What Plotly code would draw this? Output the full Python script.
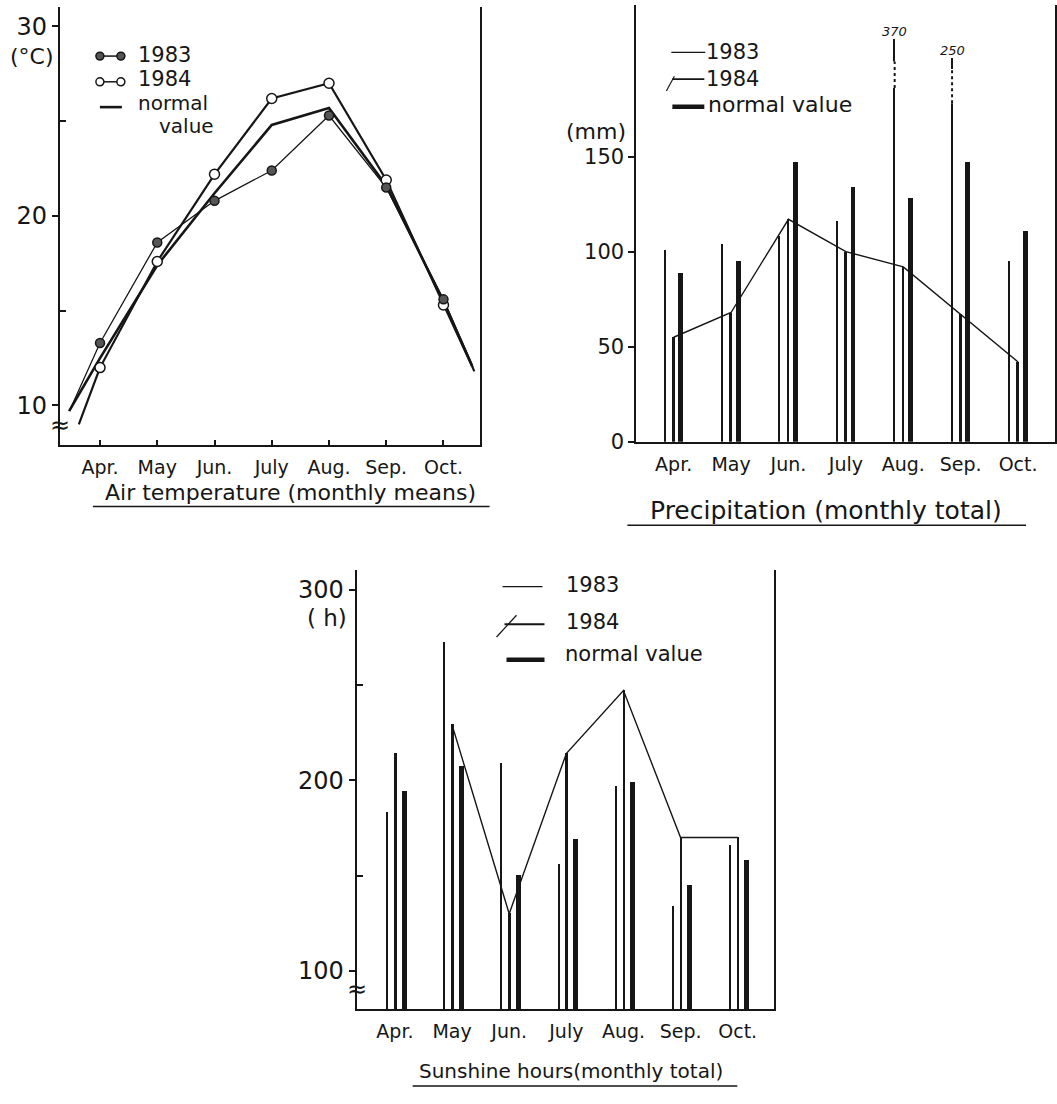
import plotly.graph_objects as go

# ---------------- data ----------------
months = ["Apr.", "May", "Jun.", "July", "Aug.", "Sep.", "Oct."]
mx = list(range(len(months)))

# Air temperature, monthly means (deg C)
temp_1983 = [13.3, 18.6, 20.8, 22.4, 25.3, 21.5, 15.6]
temp_1984 = [12.0, 17.6, 22.2, 26.2, 27.0, 21.9, 15.3]
temp_normal = [12.5, 17.4, 21.2, 24.8, 25.7, 21.6, 15.5]
# values where the curves are cut off, half way to Mar. and Nov.
temp_edge_1983 = [9.8, 12.0]
temp_edge_1984 = [9.0, 11.8]
temp_edge_normal = [9.7, 12.1]

# Precipitation, monthly total (mm)
precip_1983 = [101, 104, 108, 116, 370, 250, 95]
precip_1984 = [55, 68, 117, 100, 92, 67, 42]
precip_normal = [89, 95, 147, 134, 128, 147, 111]
# off-scale bars are drawn broken, up to these heights
precip_broken_top = {370: 212, 250: 202}

# Sunshine hours, monthly total (h)
sun_1983 = [183, 272, 209, 156, 197, 134, 166]
sun_1984 = [214, 229, 130, 214, 247, 170, 170]
sun_normal = [194, 207, 150, 169, 199, 145, 158]

# ---------------- styling / layout helpers ----------------
W, H = 1057, 1104
INK = "#161616"
FONT = "DejaVu Sans"


def fx(px):
    return px / W


def fy(py):
    return 1 - py / H


fig = go.Figure()


def pline(x0, y0, x1, y1, w=1.5, dash=None):
    fig.add_shape(type="line", xref="paper", yref="paper",
                  x0=fx(x0), y0=fy(y0), x1=fx(x1), y1=fy(y1),
                  line=dict(color=INK, width=w, dash=dash))


def pcircle(cx, cy, r, fill):
    fig.add_shape(type="circle", xref="paper", yref="paper",
                  x0=fx(cx - r), x1=fx(cx + r), y0=fy(cy + r), y1=fy(cy - r),
                  fillcolor=fill, line=dict(color=INK, width=1.5))


def ptext(x, y, text, size, xanchor="left"):
    fig.add_annotation(xref="paper", yref="paper", x=fx(x), y=fy(y), text=text,
                       showarrow=False, xanchor=xanchor, yanchor="middle",
                       borderpad=0,
                       font=dict(family=FONT, size=size, color=INK))


# ---------------- panel 1 : air temperature ----------------
def with_edges(vals, edges, xl, xr):
    return [xl] + mx + [xr], [edges[0]] + vals + [edges[1]]


xs, ys = with_edges(temp_normal, temp_edge_normal, -0.54, 6.50)
fig.add_trace(go.Scatter(x=xs, y=ys, mode="lines", line=dict(color=INK, width=2.6),
                         xaxis="x", yaxis="y"))
xs, ys = with_edges(temp_1984, temp_edge_1984, -0.37, 6.54)
fig.add_trace(go.Scatter(x=xs, y=ys, mode="lines", line=dict(color=INK, width=2.2),
                         xaxis="x", yaxis="y"))
xs, ys = with_edges(temp_1983, temp_edge_1983, -0.52, 6.52)
fig.add_trace(go.Scatter(x=xs, y=ys, mode="lines", line=dict(color=INK, width=1.3),
                         xaxis="x", yaxis="y"))
fig.add_trace(go.Scatter(x=mx, y=temp_1984, mode="markers",
                         marker=dict(symbol="circle", size=10, color="white",
                                     line=dict(color=INK, width=1.5)),
                         xaxis="x", yaxis="y"))
fig.add_trace(go.Scatter(x=mx, y=temp_1983, mode="markers",
                         marker=dict(symbol="circle", size=9, color="#555555",
                                     line=dict(color=INK, width=1.5)),
                         xaxis="x", yaxis="y"))

# ---------------- panel 2 : precipitation ----------------
P_OFF83, P_OFFN = -0.15, 0.13
precip_1983_drawn = [precip_broken_top.get(v, v) for v in precip_1983]
fig.add_trace(go.Bar(x=[i + P_OFF83 for i in mx], y=precip_1983_drawn, width=0.022,
                     marker=dict(color=INK, line=dict(width=0)), xaxis="x2", yaxis="y2"))
fig.add_trace(go.Bar(x=mx, y=precip_1984, width=0.045,
                     marker=dict(color=INK, line=dict(width=0)), xaxis="x2", yaxis="y2"))
fig.add_trace(go.Bar(x=[i + P_OFFN for i in mx], y=precip_normal, width=0.085,
                     marker=dict(color=INK, line=dict(width=0)), xaxis="x2", yaxis="y2"))
fig.add_trace(go.Scatter(x=mx, y=precip_1984, mode="lines", line=dict(color=INK, width=1.4),
                         xaxis="x2", yaxis="y2"))
# breaks on the off-scale bars + their real values
breaks = {370: (186, 200), 250: (178, 196)}
for i, v in enumerate(precip_1983):
    if v in precip_broken_top:
        xb = i + P_OFF83
        lo, hi = breaks[v]
        fig.add_shape(type="rect", xref="x2", yref="y2", x0=xb - 0.04, x1=xb + 0.04,
                      y0=lo, y1=hi, fillcolor="white", line=dict(width=0))
        fig.add_shape(type="line", xref="x2", yref="y2", x0=xb, x1=xb, y0=lo, y1=hi,
                      line=dict(color=INK, width=2, dash="dot"))
        fig.add_annotation(xref="x2", yref="y2", x=xb, y=precip_broken_top[v],
                           text="<i>%d</i>" % v, showarrow=False, yanchor="bottom",
                           yshift=-2,
                           font=dict(family=FONT, size=13, color=INK))

# ---------------- panel 3 : sunshine ----------------
S_OFF83, S_OFFN = -0.14, 0.155
fig.add_trace(go.Bar(x=[i + S_OFF83 for i in mx], y=sun_1983, width=0.022,
                     marker=dict(color=INK, line=dict(width=0)), xaxis="x3", yaxis="y3"))
fig.add_trace(go.Bar(x=mx, y=sun_1984, width=0.045,
                     marker=dict(color=INK, line=dict(width=0)), xaxis="x3", yaxis="y3"))
fig.add_trace(go.Bar(x=[i + S_OFFN for i in mx], y=sun_normal, width=0.085,
                     marker=dict(color=INK, line=dict(width=0)), xaxis="x3", yaxis="y3"))
fig.add_trace(go.Scatter(x=mx[1:], y=sun_1984[1:], mode="lines", line=dict(color=INK, width=1.4),
                         xaxis="x3", yaxis="y3"))

# ---------------- axes ----------------
base_x = dict(showgrid=False, zeroline=False, showline=True, linecolor=INK, linewidth=2,
              tickmode="array", tickvals=mx, ticktext=months, fixedrange=True,
              tickfont=dict(family=FONT, size=19, color=INK), ticklabelstandoff=4)
base_y = dict(showgrid=False, zeroline=False, showline=True, linecolor=INK, linewidth=2,
              mirror=True, ticks="outside", tickcolor=INK, tickwidth=2, fixedrange=True,
              tickmode="array")

fig.update_layout(
    width=W, height=H, margin=dict(l=0, r=0, t=0, b=0),
    paper_bgcolor="white", plot_bgcolor="white", showlegend=False,
    barmode="overlay", bargap=0,
    xaxis=dict(base_x, anchor="y", domain=[fx(60), fx(480)], range=[-0.70, 6.63],
               ticks="inside", ticklen=5, tickwidth=2, tickcolor=INK),
    yaxis=dict(base_y, anchor="x", domain=[fy(450), fy(7)], range=[7.91, 31.03],
               tickvals=[10, 20, 30], ticklen=6,
               tickfont=dict(family=FONT, size=24, color=INK),
               minor=dict(tickvals=[15, 25], ticks="inside", ticklen=6,
                          tickwidth=2, tickcolor=INK)),
    xaxis2=dict(base_x, anchor="y2", domain=[fx(637), fx(1056)], range=[-0.649, 6.643],
                ticks=""),
    yaxis2=dict(base_y, anchor="x2", domain=[fy(446.7), fy(5)], range=[0, 229.7],
                tickvals=[0, 50, 100, 150], ticklen=6,
                tickfont=dict(family=FONT, size=21, color=INK)),
    xaxis3=dict(base_x, anchor="y3", domain=[fx(357), fx(775)], range=[-0.67, 6.64],
                ticks=""),
    yaxis3=dict(base_y, anchor="x3", domain=[fy(1020), fy(576.7)], range=[80.1, 310],
                tickvals=[100, 200, 300], ticklen=6,
                tickfont=dict(family=FONT, size=24, color=INK),
                minor=dict(tickvals=[150, 250], ticks="inside", ticklen=6,
                           tickwidth=2, tickcolor=INK)),
)

# ---------------- unit labels, axis breaks ----------------
ptext(32, 57, "(°C)", 22, "center")
ptext(628, 133, "(mm)", 22, "right")
ptext(327, 625, "( h)", 23, "center")
ptext(60, 430, "≈", 24, "center")
ptext(357, 1000, "≈", 24, "center")

# ---------------- legends ----------------
# panel 1
pline(100, 56.7, 121, 56.7, 1.5)
pcircle(100, 56.7, 4, "#555555")
pcircle(121, 56.7, 4, "#555555")
ptext(137, 56, "1983", 21)
pline(100, 82.7, 121, 82.7, 1.5)
pcircle(100, 82.7, 4, "white")
pcircle(121, 82.7, 4, "white")
ptext(137, 80, "1984", 21)
pline(100, 108.3, 122, 108.3, 2.6)
ptext(137, 104, "normal", 20)
ptext(158, 127, "value", 20)

# panel 2
pline(672, 53, 706, 53, 1.2)
ptext(706, 53, "1983", 21)
pline(673, 80, 705, 80, 1.6)
pline(667, 92, 675, 77, 1.2)
ptext(706, 80, "1984", 21)
pline(673, 108, 705, 108, 4.5)
ptext(708, 106, "normal value", 22)

# panel 3
pline(503, 593, 543, 593, 1.2)
ptext(566, 591, "1983", 21)
pline(505, 631, 545, 631, 2)
pline(497, 644, 517, 622, 1.2)
ptext(566, 629, "1984", 21)
pline(507, 667, 545, 667, 4.5)
ptext(565, 661, "normal value", 21)

# ---------------- titles (underlined) ----------------
ptext(291, 498, "Air temperature (monthly means)", 22, "center")
pline(93, 512, 490, 512, 1.5)
ptext(827, 516, "Precipitation (monthly total)", 25, "center")
pline(628, 531, 1027, 531, 1.5)
ptext(572, 1083, "Sunshine hours(monthly total)", 20, "center")
pline(413, 1098, 738, 1098, 1.5)

fig.write_html("out.html")
